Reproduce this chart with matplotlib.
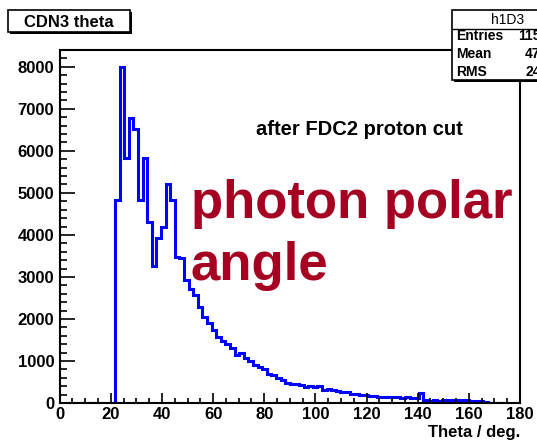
import numpy as np
import matplotlib
matplotlib.use("Agg")
import matplotlib.pyplot as plt
from matplotlib.patches import Rectangle
from matplotlib.ticker import MultipleLocator

# ---- data (bins of 1.8 deg, 0..180) ----
bin_width = 1.8
n_bins = 100
counts = [0] * 12 + [
    4830, 8000, 5830, 6790, 6520, 4840, 5830, 4300, 3260, 3920,
    4200, 5220, 4830, 3480, 3440, 2930, 2710, 2570, 2290, 2050,
    1900, 1740, 1560, 1480, 1400, 1300, 1150, 1200, 1080, 1000,
    900, 860, 800, 700, 660, 590, 540, 470, 460, 450,
    420, 370, 400, 390, 400, 320, 340, 320, 280, 270,
    260, 220, 210, 200, 190, 170, 165, 150, 140, 145,
    140, 140, 130, 135, 130, 130, 240, 60, 55, 60,
    55, 75, 70, 75, 60, 80, 60, 50, 45, 40,
    30, 10, 5, 5, 5, 5, 5, 5,
]
edges = np.arange(n_bins + 1) * bin_width

hist_title = "CDN3 theta"
stats_name = "h1D3"
stats_labels = ["Entries", "Mean", "RMS"]
stats_values = ["115", "47", "24"]
x_label = "Theta / deg."
note_text = "after FDC2 proton cut"
big_lines = ["photon polar", "angle"]

plt.rcParams['font.family'] = ['Liberation Sans', 'DejaVu Sans']
plt.rcParams['font.weight'] = 'bold'

W, H = 537, 441
fig = plt.figure(figsize=(W / 100, H / 100), dpi=100)
ax = fig.add_axes([59.7 / W, 1 - 403 / H, (520 - 59.7) / W, (403 - 50) / H])

ax.stairs(counts, edges, color='#0000ff', linewidth=2.2)
ax.set_xlim(0, 180)
ax.set_ylim(0, 8400)

ax.xaxis.set_major_locator(MultipleLocator(20))
ax.xaxis.set_minor_locator(MultipleLocator(5))
ax.yaxis.set_major_locator(MultipleLocator(1000))
ax.yaxis.set_minor_locator(MultipleLocator(200))
ax.tick_params(axis='both', which='both', direction='in', color='black',
               labelsize=12, width=1.2)
ax.tick_params(axis='x', which='major', length=7, pad=3)
ax.tick_params(axis='x', which='minor', length=3.5)
ax.tick_params(axis='y', which='major', length=10.5, pad=4)
ax.tick_params(axis='y', which='minor', length=5)
for lbl in ax.get_xticklabels() + ax.get_yticklabels():
    lbl.set_fontweight('bold')
for s in ax.spines.values():
    s.set_linewidth(1.5)

fig.text(520 / W, 1 - 437 / H, x_label, ha='right', va='baseline',
         fontsize=12, fontweight='bold')

fig.text(359 / W, 1 - 135 / H, note_text, ha='center', va='baseline',
         fontsize=14.5, fontweight='bold')

for line, base in zip(big_lines, [218, 280]):
    fig.text(191 / W, 1 - base / H, line, ha='left', va='baseline',
             fontsize=38, fontweight='bold', color='#a50021')

# title box
fig.patches.append(Rectangle((10 / W, 1 - 34 / H), 122 / W, 22 / H,
                             transform=fig.transFigure, facecolor='black',
                             edgecolor='black', lw=0))
fig.patches.append(Rectangle((8 / W, 1 - 32 / H), 122 / W, 22 / H,
                             transform=fig.transFigure, facecolor='white',
                             edgecolor='black', lw=1.2))
fig.text(69 / W, 1 - 27.3 / H, hist_title, ha='center', va='baseline',
         fontsize=12, fontweight='bold')

# stats box
fig.patches.append(Rectangle((453.5 / W, 1 - 82 / H), 100 / W, 70 / H,
                             transform=fig.transFigure, facecolor='black',
                             edgecolor='black', lw=0, zorder=5))
fig.patches.append(Rectangle((451.7 / W, 1 - 80 / H), 100 / W, 70 / H,
                             transform=fig.transFigure, facecolor='white',
                             edgecolor='black', lw=1.2, zorder=6))
fig.lines.append(plt.Line2D([451.7 / W, 1], [1 - 29.3 / H] * 2,
                            transform=fig.transFigure, color='black',
                            lw=1.0, zorder=7))
fig.text(508 / W, 1 - 19.5 / H, stats_name, ha='center', va='center',
         fontsize=10, fontweight='normal', zorder=8)
row_y = [36, 54, 72]
val_x = [518, 525, 525]
for lab, val, y, vx in zip(stats_labels, stats_values, row_y, val_x):
    fig.text(456.5 / W, 1 - y / H, lab, ha='left', va='center',
             fontsize=10, fontweight='bold', zorder=8)
    fig.text(vx / W, 1 - y / H, val, ha='left', va='center',
             fontsize=10, fontweight='bold', zorder=8)

fig.savefig('out.png', dpi=100)
